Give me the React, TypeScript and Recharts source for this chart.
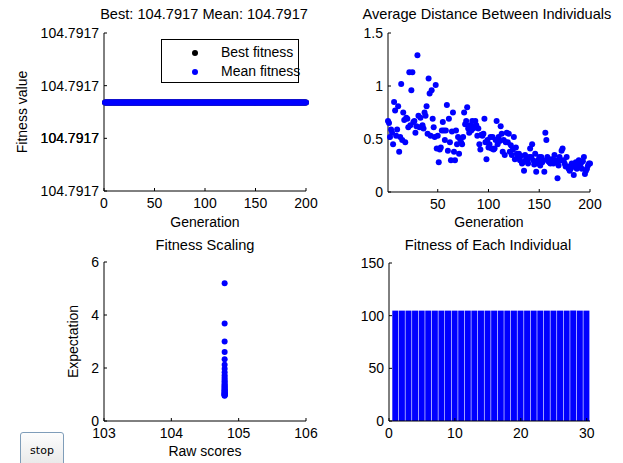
import React from 'react';
import {
  ScatterChart, Scatter, BarChart, Bar, XAxis, YAxis, ReferenceLine,
} from 'recharts';

// generation numbers 1..200
const generations = Array.from({ length: 200 }, (_, i) => i + 1);

// best and mean fitness stay flat over the run
const bestFitnessValue = 104.7917168;
const meanFitnessValue = 104.7917168;
// the y axis spans a tiny range above this base, in steps of 1e-5
const FIT_BASE = 104.7917;
const FIT_STEP = 0.00001;

// average distance between individuals, one per generation
const avgDistance = [
  0.67, 0.65, 0.52, 0.59, 0.56, 0.45, 0.85, 0.77, 0.53, 0.59,
  0.81, 0.38, 0.52, 1.02, 0.49, 0.75, 0.68, 0.47, 0.70, 0.69,
  0.61, 1.13, 0.63, 0.96, 1.13, 0.66, 0.67, 0.56, 0.62, 1.29,
  0.72, 0.61, 0.70, 0.61, 0.63, 0.60, 0.75, 0.72, 0.81, 0.55,
  1.07, 0.93, 0.53, 0.96, 0.69, 0.61, 0.52, 1.01, 0.41, 0.53,
  0.28, 0.40, 0.42, 0.58, 0.66, 0.58, 0.49, 0.58, 0.82, 0.39,
  0.69, 0.47, 0.30, 0.57, 0.75, 0.38, 0.30, 0.58, 0.45, 0.52,
  0.36, 0.50, 0.47, 0.45, 0.52, 0.75, 0.64, 0.67, 0.80, 0.60,
  0.56, 0.63, 0.58, 0.67, 0.60, 0.62, 0.67, 0.63, 0.53, 0.60,
  0.45, 0.40, 0.54, 0.53, 0.55, 0.69, 0.47, 0.31, 0.49, 0.42,
  0.45, 0.52, 0.41, 0.52, 0.40, 0.41, 0.49, 0.67, 0.45, 0.52,
  0.48, 0.62, 0.55, 0.38, 0.49, 0.35, 0.47, 0.56, 0.47, 0.55,
  0.38, 0.44, 0.35, 0.40, 0.52, 0.31, 0.42, 0.36, 0.33, 0.36,
  0.30, 0.34, 0.27, 0.28, 0.20, 0.35, 0.31, 0.30, 0.27, 0.33,
  0.41, 0.33, 0.45, 0.30, 0.26, 0.36, 0.19, 0.27, 0.30, 0.33,
  0.25, 0.33, 0.28, 0.30, 0.19, 0.56, 0.49, 0.33, 0.29, 0.28,
  0.27, 0.31, 0.29, 0.27, 0.35, 0.30, 0.28, 0.13, 0.25, 0.33,
  0.30, 0.39, 0.41, 0.30, 0.27, 0.24, 0.33, 0.24, 0.22, 0.20,
  0.22, 0.27, 0.24, 0.16, 0.24, 0.28, 0.22, 0.25, 0.30, 0.24,
  0.27, 0.22, 0.29, 0.33, 0.17, 0.20, 0.22, 0.25, 0.27, 0.27,
];

// fitness scaling: raw score vs expectation
const rawScore = 104.7917;
const expectations = [
  5.2, 3.68, 3.0, 2.6, 2.33, 2.12, 1.97, 1.84, 1.73, 1.64,
  1.57, 1.5, 1.44, 1.39, 1.34, 1.3, 1.26, 1.23, 1.19, 1.16,
  1.13, 1.11, 1.08, 1.06, 1.04, 1.02, 1.0, 0.98, 0.97, 0.95,
];

// fitness of each of the 30 individuals
const individuals = Array.from({ length: 30 }, (_, i) => i + 1);
const individualFitness = [
  104.79, 104.79, 104.79, 104.79, 104.79, 104.79, 104.79, 104.79, 104.79, 104.79,
  104.79, 104.79, 104.79, 104.79, 104.79, 104.79, 104.79, 104.79, 104.79, 104.79,
  104.79, 104.79, 104.79, 104.79, 104.79, 104.79, 104.79, 104.79, 104.79, 104.79,
];

const bestData = generations.map(g => ({ gen: g, value: bestFitnessValue }));
const meanData = generations.map(g => ({ gen: g, value: meanFitnessValue }));
const distData = generations.map((g, i) => ({ gen: g, dist: avgDistance[i] }));
const scalingData = expectations.map(e => ({ raw: rawScore, exp: e }));
const barData = individuals.map((n, i) => ({ n, fitness: individualFitness[i] }));

const FONT = '"Liberation Sans", Arial, sans-serif';
const tickStyle = { fill: '#000', fontSize: 14 };
const axisLine = { stroke: '#000' };
const tickLine = { stroke: '#000' };

const dot = (color: string) => (props: any) => (
  <circle cx={props.cx} cy={props.cy} r={3} fill={color} />
);

const fitLabel = (v: number) => (FIT_BASE + v * FIT_STEP).toFixed(4);

// tick values are steps above FIT_BASE; print them as fitness numbers
const FitnessTick = (props: any) => (
  <text x={props.x} y={props.y} dy="0.355em" textAnchor="end" fill="#000" fontSize={14}>
    {fitLabel(Number(props.payload.value))}
  </text>
);

const Title = ({ text, cx, cy }: { text: string; cx: number; cy: number }) => (
  <div style={{
    position: 'absolute', left: cx - 150, top: cy - 9, width: 300, textAlign: 'center',
    fontSize: 14.6, lineHeight: '18px', color: '#000', whiteSpace: 'nowrap',
  }}>{text}</div>
);

const FitnessLegend = () => (
  <div style={{
    position: 'absolute', left: 161, top: 39, width: 136, height: 42,
    border: '1px solid #000', background: '#fff', fontSize: 14, color: '#000', whiteSpace: 'nowrap',
  }}>
    <span style={{ position: 'absolute', left: 30, top: 10, width: 6, height: 6, borderRadius: 3, background: '#000' }} />
    <span style={{ position: 'absolute', left: 59, top: 4, lineHeight: '16px' }}>Best fitness</span>
    <span style={{ position: 'absolute', left: 30, top: 29, width: 6, height: 6, borderRadius: 3, background: '#0000ff' }} />
    <span style={{ position: 'absolute', left: 59, top: 23, lineHeight: '16px' }}>Mean fitness</span>
  </div>
);

export default function App() {
  return (
    <div style={{
      position: 'absolute', left: 0, top: 0, width: 623, height: 463,
      background: '#fff', fontFamily: FONT, overflow: 'hidden',
    }}>
      <Title text="Best: 104.7917 Mean: 104.7917" cx={204} cy={14} />
      <Title text="Average Distance Between Individuals" cx={487} cy={14} />
      <Title text="Fitness Scaling" cx={205} cy={245} />
      <Title text="Fitness of Each Individual" cx={488} cy={245} />

      {/* fitness value per generation */}
      <div style={{ position: 'absolute', left: 0, top: 0 }}>
        <ScatterChart width={320} height={230} margin={{ top: 33, right: 14, bottom: 0, left: 0 }}>
          <XAxis
            type="number" dataKey="gen" domain={[0, 200]} ticks={[0, 50, 100, 150, 200]} interval={0}
            height={39} tickSize={-3} tickMargin={10} tick={tickStyle} axisLine={axisLine} tickLine={tickLine}
            label={{ value: 'Generation', position: 'insideBottom', offset: 3, fill: '#000', fontSize: 14 }}
          />
          <YAxis
            type="number" dataKey={(d: any) => (d.value - FIT_BASE) / FIT_STEP}
            domain={[0, 3]} ticks={[0, 1, 2, 3]} interval={0} minTickGap={0}
            width={104} tickSize={-3} tickMargin={8} tick={FitnessTick} axisLine={axisLine} tickLine={tickLine}
            label={{ value: 'Fitness value', angle: -90, position: 'insideLeft', offset: 22, fill: '#000', fontSize: 14, style: { textAnchor: 'middle' } }}
          />
          {/* the axis drops its second tick label, so it is put back here */}
          <ReferenceLine
            y={1} stroke="none" ifOverflow="visible"
            label={{ value: fitLabel(1), position: 'left', offset: 5, fill: '#000', fontSize: 14 }}
          />
          <Scatter name="Best fitness" data={bestData} fill="#000" shape={dot('#000')} isAnimationActive={false} />
          <Scatter name="Mean fitness" data={meanData} fill="#0000ff" shape={dot('#0000ff')} isAnimationActive={false} />
        </ScatterChart>
      </div>
      <FitnessLegend />

      {/* average distance */}
      <div style={{ position: 'absolute', left: 320, top: 0 }}>
        <ScatterChart width={303} height={230} margin={{ top: 33, right: 33, bottom: 0, left: 0 }}>
          <XAxis
            type="number" dataKey="gen" domain={[1, 200]} ticks={[50, 100, 150, 200]} interval={0}
            height={38} tickSize={-3} tickMargin={10} tick={tickStyle} axisLine={axisLine} tickLine={tickLine}
            label={{ value: 'Generation', position: 'insideBottom', offset: 3, fill: '#000', fontSize: 14 }}
          />
          <YAxis
            type="number" dataKey="dist" domain={[0, 1.5]} ticks={[0, 0.5, 1, 1.5]} interval={0}
            width={68} tickSize={-3} tickMargin={8} tick={tickStyle} axisLine={axisLine} tickLine={tickLine}
          />
          <Scatter data={distData} fill="#0000ff" shape={dot('#0000ff')} isAnimationActive={false} />
        </ScatterChart>
      </div>

      {/* fitness scaling */}
      <div style={{ position: 'absolute', left: 0, top: 230 }}>
        <ScatterChart width={320} height={233} margin={{ top: 32, right: 14, bottom: 0, left: 0 }}>
          <XAxis
            type="number" dataKey="raw" domain={[103, 106]} ticks={[103, 104, 105, 106]} interval={0}
            height={42} tickSize={-3} tickMargin={10} tick={tickStyle} axisLine={axisLine} tickLine={tickLine}
            label={{ value: 'Raw scores', position: 'insideBottom', offset: 7, fill: '#000', fontSize: 14 }}
          />
          <YAxis
            type="number" dataKey="exp" domain={[0, 6]} ticks={[0, 2, 4, 6]} interval={0}
            width={104} tickSize={-3} tickMargin={8} tick={tickStyle} axisLine={axisLine} tickLine={tickLine}
            label={{ value: 'Expectation', angle: -90, position: 'insideLeft', offset: 73, fill: '#000', fontSize: 14, style: { textAnchor: 'middle' } }}
          />
          <Scatter data={scalingData} fill="#0000ff" shape={dot('#0000ff')} isAnimationActive={false} />
        </ScatterChart>
      </div>

      {/* fitness of each individual */}
      <div style={{ position: 'absolute', left: 320, top: 230 }}>
        <BarChart width={303} height={233} data={barData} margin={{ top: 33, right: 33, bottom: 0, left: 0 }}>
          <XAxis
            xAxisId="b" type="number" dataKey="n" domain={[0, 30.5]} ticks={[0, 10, 20, 30]} interval={0}
            height={42} tickSize={-3} tickMargin={10} tick={tickStyle} axisLine={axisLine} tickLine={tickLine}
          />
          <XAxis
            xAxisId="t" orientation="top" type="number" dataKey="n" domain={[0, 30.5]} ticks={[0, 10, 20, 30]} interval={0}
            height={0} tickSize={-3} tickFormatter={() => ''} axisLine={axisLine} tickLine={tickLine}
          />
          <YAxis
            yAxisId="l" type="number" domain={[0, 150]} ticks={[0, 50, 100, 150]} interval={0}
            width={69} tickSize={-3} tickMargin={8} tick={tickStyle} axisLine={axisLine} tickLine={tickLine}
          />
          <YAxis
            yAxisId="r" orientation="right" type="number" domain={[0, 150]} ticks={[0, 50, 100, 150]} interval={0}
            width={0} tickSize={-3} tickFormatter={() => ''} axisLine={axisLine} tickLine={tickLine}
          />
          <Bar xAxisId="b" yAxisId="l" dataKey="fitness" fill="#0000ff" barSize={6} isAnimationActive={false} />
        </BarChart>
      </div>

      <button style={{
        position: 'absolute', left: 20, top: 432, width: 44, height: 38,
        border: '1px solid #7f9db9', borderRadius: 3, background: 'linear-gradient(#fdfdfd, #e6e6e6)',
        fontFamily: '"DejaVu Sans", sans-serif', fontSize: 11, color: '#000', padding: 0,
        paddingBottom: 2,
      }}>stop</button>
    </div>
  );
}
